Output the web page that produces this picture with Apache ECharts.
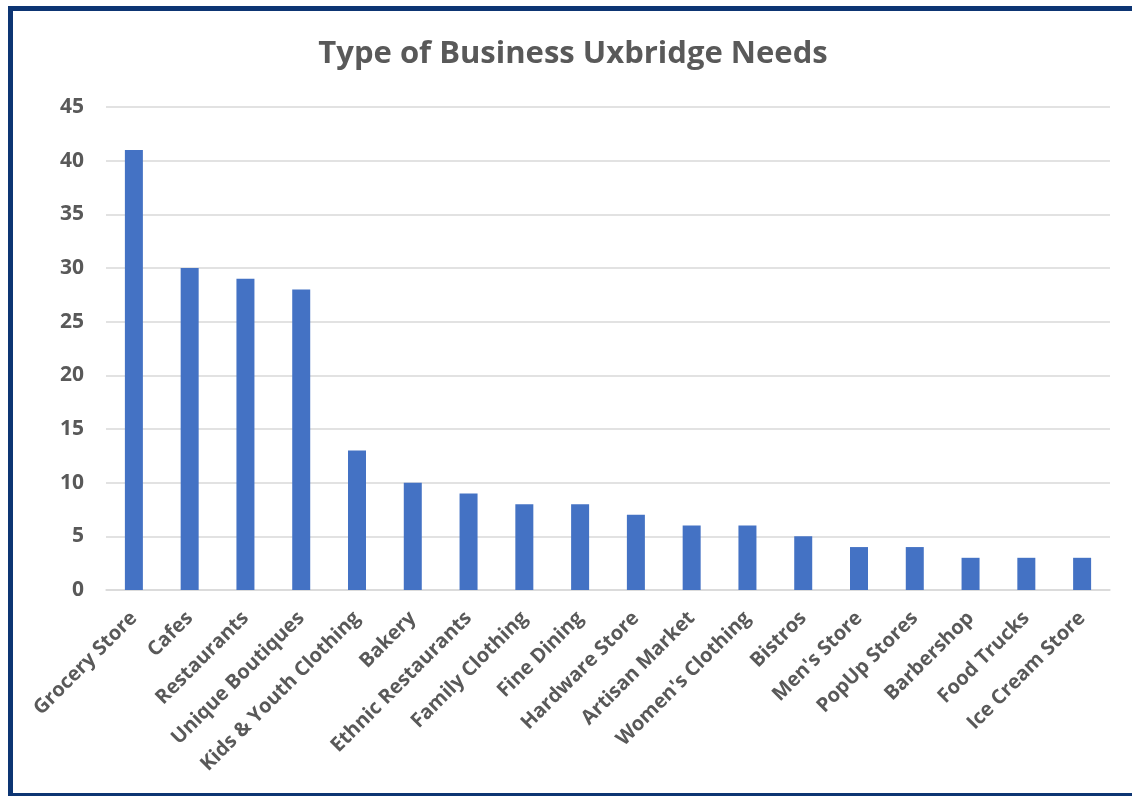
<!DOCTYPE html>
<html>
<head>
<meta charset="utf-8">
<script src="https://cdn.jsdelivr.net/npm/echarts@6/dist/echarts.min.js"></script>
<style>
  html, body { margin: 0; padding: 0; background: #ffffff; overflow: hidden; }
  #chart { width: 1132px; height: 796px; }
</style>
</head>
<body>
<div id="chart"></div>
<script>
// Survey responses: which type of business Uxbridge needs
const categories = [
  'Grocery Store', 'Cafes', 'Restaurants', 'Unique Boutiques', 'Kids & Youth Clothing',
  'Bakery', 'Ethnic Restaurants', 'Family Clothing', 'Fine Dining', 'Hardware Store',
  'Artisan Market', "Women's Clothing", 'Bistros', "Men's Store", 'PopUp Stores',
  'Barbershop', 'Food Trucks', 'Ice Cream Store'
];
const counts = [41, 30, 29, 28, 13, 10, 9, 8, 8, 7, 6, 6, 5, 4, 4, 3, 3, 3];
const yTicks = { min: 0, max: 45, interval: 5 };

const textColor = '#595959';
const fontFamily = '"Open Sans", "Noto Sans", sans-serif';
const frameColor = '#0d3573';

const chart = echarts.init(document.getElementById('chart'), null, { renderer: 'canvas' });
chart.setOption({
  animation: false,
  backgroundColor: '#ffffff',
  title: {
    text: 'Type of Business Uxbridge Needs',
    left: 568,
    textAlign: 'center',
    top: 34,
    textStyle: { color: textColor, fontSize: 31, fontWeight: 'bold', fontFamily: fontFamily }
  },
  graphic: [
    // frame: top and left edges
    {
      type: 'polyline',
      silent: true,
      shape: { points: [[1132, 8.5], [10.5, 8.5], [10.5, 796]] },
      style: { fill: 'none', stroke: frameColor, lineWidth: 5 }
    },
    // frame: bottom edge
    {
      type: 'line',
      silent: true,
      shape: { x1: 8, y1: 794.5, x2: 1132, y2: 794.5 },
      style: { stroke: frameColor, lineWidth: 3 }
    }
  ],
  grid: { left: 106, right: 22, top: 107, bottom: 206 },
  xAxis: {
    type: 'category',
    data: categories,
    axisLine: { lineStyle: { color: '#d9d9d9', width: 1.5 } },
    axisTick: { show: false },
    axisLabel: {
      interval: 0,
      rotate: 45,
      margin: 25,
      color: textColor,
      fontSize: 20,
      fontWeight: 'bold',
      fontFamily: fontFamily
    }
  },
  yAxis: {
    type: 'value',
    min: yTicks.min,
    max: yTicks.max,
    interval: yTicks.interval,
    axisLine: { show: false },
    axisTick: { show: false },
    splitLine: { lineStyle: { color: '#d9d9d9', width: 1.5 } },
    axisLabel: {
      margin: 22,
      color: textColor,
      fontSize: 21,
      fontWeight: 'bold',
      fontFamily: fontFamily
    }
  },
  series: [{
    type: 'bar',
    data: counts,
    barWidth: 18,
    itemStyle: { color: '#4472c4' }
  }]
});
</script>
</body>
</html>
